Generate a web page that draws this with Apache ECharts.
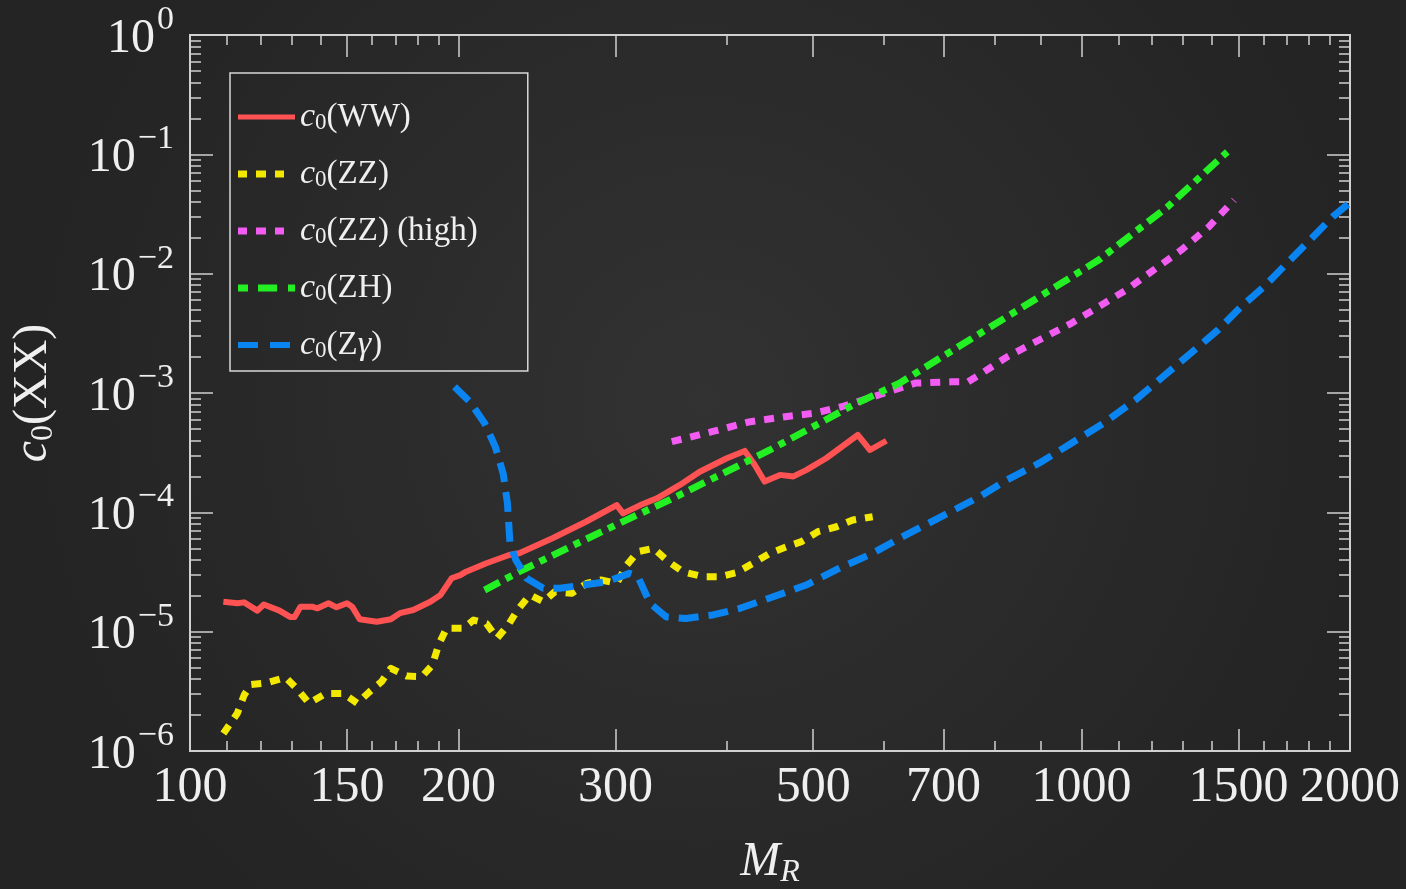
<!DOCTYPE html>
<html>
<head>
<meta charset="utf-8">
<script src="https://cdn.jsdelivr.net/npm/echarts@6/dist/echarts.min.js"></script>
<style>
  html, body { margin: 0; padding: 0; background: #2a2a2a; }
  #main { width: 1406px; height: 889px; }
</style>
</head>
<body>
<div id="main"></div>
<script>
// tick values
var xLabels = [100, 150, 200, 300, 500, 700, 1000, 1500, 2000];
var xMajor = [150, 200, 300, 500, 700, 1000, 1500];
var xMinor = [110, 120, 130, 140, 160, 170, 180, 190, 400, 600, 800, 900,
  1100, 1200, 1300, 1400, 1600, 1700, 1800, 1900];
var yMajor = [1e-6, 1e-5, 1e-4, 1e-3, 1e-2, 1e-1, 1];
var yMinor = [];
yMajor.slice(0, 6).forEach(function (d) {
  for (var k = 2; k <= 9; k++) yMinor.push(k * d);
});

// c0(WW)
var ww = [[109,1.78e-5],[113,1.73e-5],[115,1.76e-5],[119,1.50e-5],[121,1.69e-5],[126,1.50e-5],
  [129.5,1.33e-5],[131,1.33e-5],[133,1.62e-5],[137,1.62e-5],[139,1.57e-5],[143,1.73e-5],
  [146,1.60e-5],[150,1.73e-5],[152,1.62e-5],[155,1.27e-5],[162,1.21e-5],[168,1.27e-5],
  [172,1.43e-5],[178,1.52e-5],[186,1.78e-5],[191,2.03e-5],[196.5,2.8e-5],[201,2.98e-5],
  [204,3.18e-5],[215,3.74e-5],[228,4.39e-5],[234,4.54e-5],[255,6.06e-5],[278,8.34e-5],
  [301,1.15e-4],[306,9.8e-5],[320,1.15e-4],[334,1.31e-4],[354,1.69e-4],[373,2.19e-4],
  [400,2.84e-4],[419,3.27e-4],[430,2.49e-4],[441,1.81e-4],[459,2.06e-4],[475,2.0e-4],
  [491,2.26e-4],[517,2.84e-4],[561,4.45e-4],[579,3.33e-4],[604,3.98e-4]];

// c0(ZZ)
var zz = [[109,1.4e-6],[113,2.07e-6],[115,2.94e-6],[117,3.6e-6],[122,3.73e-6],[128,4.14e-6],
  [132,3.29e-6],[136,2.51e-6],[142,3.04e-6],[148.5,3.04e-6],[154,2.51e-6],[159,3.14e-6],
  [164,3.81e-6],[168,4.93e-6],[175,4.25e-6],[182,4.2e-6],[187,5.26e-6],[190,7.73e-6],
  [194,1.07e-5],[202.5,1.07e-5],[208,1.25e-5],[215,1.17e-5],[221,8.8e-6],[227.5,1.14e-5],
  [233,1.52e-5],[240.5,2.03e-5],[249,1.78e-5],[256.5,2.16e-5],[268,2.1e-5],[278.5,2.54e-5],
  [289,2.71e-5],[301,2.54e-5],[309,3.62e-5],[318,4.68e-5],[331,4.99e-5],[344,3.86e-5],
  [357,3.18e-5],[376,2.89e-5],[393,2.89e-5],[410,3.12e-5],[428,3.74e-5],[447,4.54e-5],
  [467,5.15e-5],[485,5.68e-5],[506,6.89e-5],[531,7.57e-5],[554,8.63e-5],[583,9.18e-5]];

// c0(ZZ) (high)
var zzHigh = [[347,3.91e-4],[385,4.74e-4],[425,5.75e-4],[465,6.33e-4],[501,6.76e-4],
  [538,7.67e-4],[592,9.62e-4],[651,1.21e-3],[715,1.24e-3],[746,1.24e-3],[768,1.42e-3],
  [825,2.01e-3],[896,2.78e-3],[974,3.84e-3],[1045,5.29e-3],[1122,7.3e-3],[1204,1.07e-2],
  [1294,1.58e-2],[1389,2.47e-2],[1483,4.14e-2]];

// c0(ZH)
var zh = [[214,2.23e-5],[234,3.18e-5],[267,5.15e-5],[303,8.09e-5],[345,1.27e-4],[393,2.06e-4],
  [447,3.33e-4],[508,5.57e-4],[554,7.93e-4],[625,1.21e-3],[825,4.36e-3],[1045,1.3e-2],
  [1249,3.64e-2],[1457,0.105]];

// c0(Zgamma)
var zgamma = [[198,1.13e-3],[206,8.45e-4],[214,5.57e-4],[220,3.55e-4],[224.5,2.12e-4],
  [227,1.19e-4],[228.5,5.5e-5],[232,3.98e-5],[238.5,2.8e-5],[249,2.31e-5],[260,2.31e-5],
  [276,2.46e-5],[293,2.62e-5],[311,3.08e-5],[318,2.89e-5],[328,1.73e-5],[342,1.33e-5],
  [360,1.29e-5],[386,1.38e-5],[414,1.57e-5],[451,1.96e-5],[491,2.46e-5],[535,3.4e-5],
  [583,4.54e-5],[625,6.06e-5],[768,1.35e-4],[825,1.87e-4],[896,2.58e-4],[974,3.79e-4],
  [1058,5.57e-4],[1149,8.73e-4],[1234,1.37e-3],[1325,2.15e-3],[1422,3.37e-3],[1510,5.29e-3],
  [1602,7.78e-3],[1699,1.22e-2],[1803,1.91e-2],[1913,3.0e-2],[1995,3.89e-2]];

var chalk = '#efefef';
var frame = '#d0d0d0';
var serif = 'Liberation Serif';

var legendText = {
  'c0(WW)': '{i|c}{sub|0}{n|(WW)}',
  'c0(ZZ)': '{i|c}{sub|0}{n|(ZZ)}',
  'c0(ZZ) (high)': '{i|c}{sub|0}{n|(ZZ) (high)}',
  'c0(ZH)': '{i|c}{sub|0}{n|(ZH)}',
  'c0(Zγ)': '{i|c}{sub|0}{n|(Z}{i|γ}{n|)}'
};

// legend swatches, 57 x 7 box (tiny corner dots keep the box size)
var box = ' M0,0h0.05v0.05h-0.05z M56.95,6.95h0.05v0.05h-0.05z';
var legendIcons = {
  'c0(WW)': 'path://M0,1h57v5h-57z' + box,
  'c0(ZZ)': 'path://M0,0h9v7h-9z M18,0h10v7h-10z M37,0h9v7h-9z' + box,
  'c0(ZZ) (high)': 'path://M0,0h9v7h-9z M18,0h10v7h-10z M37,0h9v7h-9z' + box,
  'c0(ZH)': 'path://M0,0h10v7h-10z M20,0h19v7h-19z M50,0h7v7h-7z' + box,
  'c0(Zγ)': 'path://M0,0.5h20v6h-20z M32,0.5h20v6h-20z' + box
};

function xAx(pos, ticks, len, labels) {
  return {
    type: 'log', logBase: 10, min: 100, max: 2000, position: pos, gridIndex: 0,
    axisLine: { show: true, onZero: false, lineStyle: { color: frame, width: 2 } },
    axisTick: { show: true, inside: true, length: len, customValues: ticks,
      lineStyle: { color: frame, width: 1.5 } },
    axisLabel: labels ? {
      show: true, customValues: xLabels, margin: 12, color: chalk,
      fontFamily: serif, fontSize: 50,
      formatter: function (v) { return String(Math.round(v)); }
    } : { show: false },
    splitLine: { show: false }, minorTick: { show: false }
  };
}

function yAx(pos, ticks, len, labels) {
  return {
    type: 'log', logBase: 10, min: 1e-6, max: 1, position: pos, gridIndex: 0,
    axisLine: { show: true, onZero: false, lineStyle: { color: frame, width: 2 } },
    axisTick: { show: true, inside: true, length: len, customValues: ticks,
      lineStyle: { color: frame, width: 1.5 } },
    axisLabel: labels ? {
      show: true, customValues: yMajor, margin: 16, color: chalk,
      formatter: function (v) {
        var e = Math.round(Math.log10(v));
        return '{b|10}{s|' + (e === 0 ? '0' : '\u2212' + (-e)) + '}';
      },
      rich: {
        b: { fontFamily: serif, fontSize: 48, color: chalk, lineHeight: 48, padding: [8, 2, 0, 0] },
        s: { fontFamily: serif, fontSize: 34, color: chalk, padding: [0, 0, 30, 0] }
      }
    } : { show: false },
    splitLine: { show: false }, minorTick: { show: false }
  };
}

var xAxes = [xAx('bottom', xMajor, 22, true), xAx('bottom', xMinor, 10, false),
  xAx('top', xMajor, 22, false), xAx('top', xMinor, 10, false)];
xAxes[0].name = '{m|M}{r|R}';
xAxes[0].nameLocation = 'middle';
xAxes[0].nameGap = 84;
xAxes[0].nameTextStyle = {
  rich: {
    m: { fontFamily: serif, fontStyle: 'italic', fontSize: 48, color: chalk },
    r: { fontFamily: serif, fontStyle: 'italic', fontSize: 32, color: chalk, padding: [22, 0, 0, 0] }
  }
};

var yAxes = [yAx('left', yMajor, 23, true), yAx('left', yMinor, 11, false),
  yAx('right', yMajor, 23, false), yAx('right', yMinor, 11, false)];
yAxes[0].name = '{i|c}{sub|0}{n|(XX)}';
yAxes[0].nameLocation = 'middle';
yAxes[0].nameRotate = 90;
yAxes[0].nameGap = 130;
yAxes[0].nameTextStyle = {
  rich: {
    i: { fontFamily: serif, fontStyle: 'italic', fontSize: 48, color: chalk },
    sub: { fontFamily: serif, fontSize: 32, color: chalk, padding: [22, 0, 0, 0] },
    n: { fontFamily: serif, fontSize: 48, color: chalk }
  }
};

function line(name, data, color, width, dash) {
  return {
    name: name, type: 'line', data: data, xAxisIndex: 0, yAxisIndex: 0,
    symbol: 'none', showSymbol: false, smooth: false,
    lineStyle: { color: color, width: width, type: dash, cap: 'butt', join: 'round' },
    itemStyle: { color: color }
  };
}

var names = ['c0(WW)', 'c0(ZZ)', 'c0(ZZ) (high)', 'c0(ZH)', 'c0(Zγ)'];

var chart = echarts.init(document.getElementById('main'));
chart.setOption({
  animation: false,
  backgroundColor: {
    type: 'radial', x: 0.5, y: 0.45, r: 0.75,
    colorStops: [{ offset: 0, color: '#323232' }, { offset: 1, color: '#242424' }]
  },
  grid: { left: 190, right: 56, top: 35, bottom: 138, containLabel: false, outerBoundsMode: 'none' },
  legend: {
    orient: 'vertical', left: 230, top: 73,
    padding: [26, 50, 8, 8],
    borderColor: '#d8d8d8', borderWidth: 1.5,
    itemWidth: 57, itemHeight: 7, itemGap: 21, symbolKeepAspect: false,
    textStyle: {
      color: chalk, fontFamily: serif, fontSize: 33, lineHeight: 36,
      rich: {
        i: { fontFamily: serif, fontStyle: 'italic', fontSize: 34, color: chalk, lineHeight: 36 },
        sub: { fontFamily: serif, fontSize: 23, color: chalk, padding: [12, 0, 0, 0] },
        n: { fontFamily: serif, fontSize: 33, color: chalk, lineHeight: 36 }
      }
    },
    formatter: function (n) { return legendText[n]; },
    data: names.map(function (n) { return { name: n, icon: legendIcons[n] }; })
  },
  xAxis: xAxes,
  yAxis: yAxes,
  series: [
    line(names[0], ww, '#ff5252', 6, 'solid'),
    line(names[1], zz, '#f2e800', 7, [10, 9]),
    line(names[2], zzHigh, '#f25cf2', 7, [10, 9]),
    line(names[3], zh, '#22f022', 7, [17, 7, 7, 7]),
    line(names[4], zgamma, '#0a84f0', 7, [20, 10])
  ]
});
</script>
</body>
</html>
